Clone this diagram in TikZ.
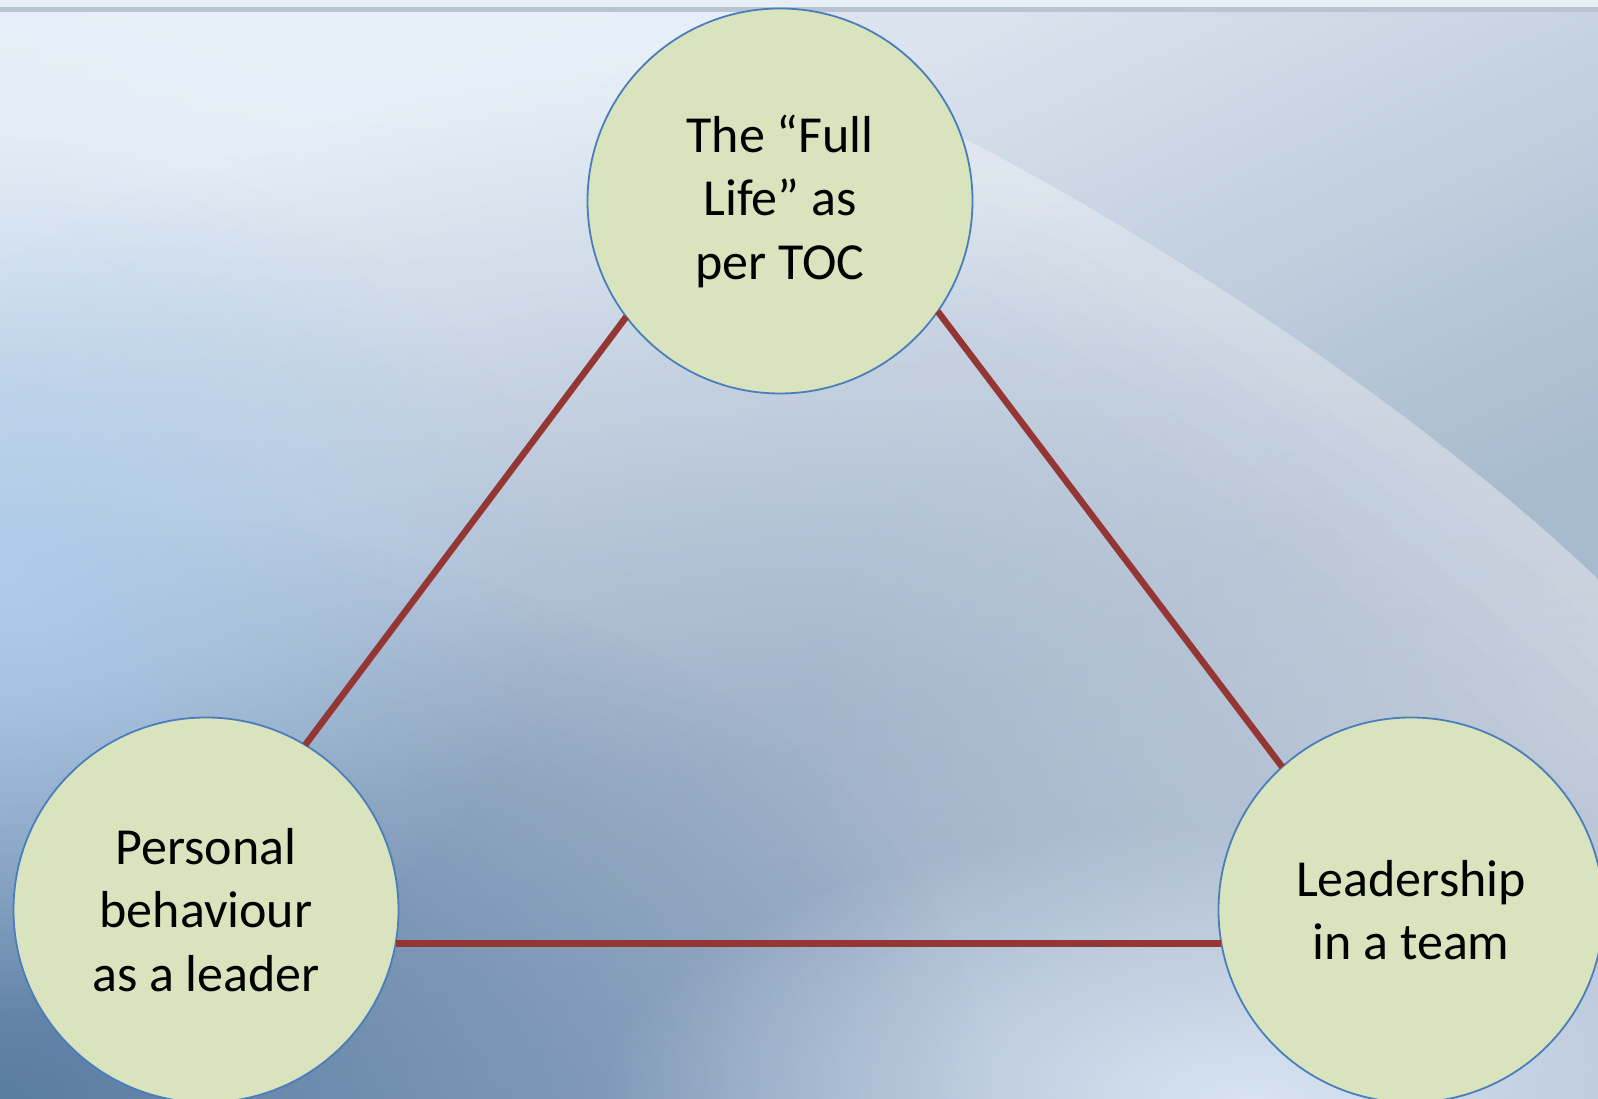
\documentclass[tikz,border=0pt]{standalone}
\usepackage{fontspec}
\setmainfont{Carlito}
\usetikzlibrary{fadings}
\definecolor{cfill}{HTML}{D9E4BE}
\definecolor{cborder}{HTML}{4A7EBB}
\definecolor{cline}{HTML}{943634}
\definecolor{bgtop}{HTML}{E4ECF6}
\definecolor{bgmid}{HTML}{C0D0E2}
\definecolor{bgbot}{HTML}{9AAEC8}
\definecolor{bgtl}{HTML}{E8F0F8}
\definecolor{bgleft}{HTML}{AECCEA}
\definecolor{bgcen}{HTML}{9AACC4}
\definecolor{bgdark}{HTML}{567AA0}
\definecolor{bgright}{HTML}{C4CEDA}
\definecolor{bgglow}{HTML}{D8E4F2}
\definecolor{swtop}{HTML}{DAE3EE}
\definecolor{swbot}{HTML}{A8BACE}
\definecolor{ruletop}{HTML}{E8EEF6}
\definecolor{rule}{HTML}{B8C4D4}
\tikzfading[name=softblob, inner color=transparent!0, outer color=transparent!100]
\begin{document}
\begin{tikzpicture}[x=1pt,y=1pt,
  bubble/.style={circle, draw=cborder, line width=1.8pt, fill=cfill,
    minimum size=385pt, inner sep=0pt, outer sep=0pt, align=center,
    font=\fontsize{52}{63.5}\selectfont, text=black},
  link/.style={draw=cline, line width=6.5pt},
  blob/.style={fill=#1, path fading=softblob}]
\useasboundingbox (0,0) rectangle (1598,1099);
\begin{scope}
  \clip (0,0) rectangle (1598,1099);
  % base
  \shade[top color=bgtop, middle color=bgmid, bottom color=bgbot] (0,0) rectangle (1598,1099);
  % light top-left
  \fill[blob=bgtl] (350,1099) ellipse (1300 and 800);
  % grey-blue centre
  \fill[blob=bgcen, fill opacity=0.7] (760,330) ellipse (1100 and 700);
  % dark bottom-left
  \fill[blob=bgdark, fill opacity=0.95] (0,0) ellipse (1000 and 600);
  % light blue left
  \fill[blob=bgleft, fill opacity=0.95] (0,520) ellipse (560 and 440);
  % right greyish
  \fill[blob=bgright, fill opacity=0.8] (1598,380) ellipse (800 and 700);
  % glow bottom right
  \fill[blob=bgglow] (1250,0) ellipse (650 and 280);
  % swoosh: darker region above the curve
  \shade[top color=swtop, bottom color=swbot, shading angle=25]
    (780,1099) -- (780,1092) .. controls (850,1040) and (900,995) .. (967,959)
      .. controls (1150,865) and (1420,690) .. (1598,520) -- (1598,1099) -- cycle;
  % light band below the curve, fading downwards
  \foreach \d/\o in {0/0.05,40/0.05,80/0.04,130/0.04,190/0.03}{
    \fill[white, fill opacity=\o]
      (780,1092) .. controls (850,1040) and (900,995) .. (967,959)
        .. controls (1150,865) and (1420,690) .. (1598,520)
      -- (1598,470-\d) .. controls (1420,640-0.9*\d) and (1150,815-0.8*\d) .. (967,909-0.7*\d)
        .. controls (900,945-0.6*\d) and (850,990-0.5*\d) .. (780,1040-0.5*\d) -- cycle;
  }
  % top rule
  \fill[ruletop] (0,1092) rectangle (1598,1099);
  \fill[rule] (0,1087) rectangle (1598,1092);
\end{scope}
\node[bubble] (top) at (780,898) {The “Full\\Life” as\\per TOC};
\node[bubble] (left) at (206,189) {Personal\\behaviour\\as a leader};
\node[bubble] (right) at (1411,189) {Leadership\\in a team};
\draw[link] (top.217) -- (left.59);
\draw[link] (top.-35.3) -- (right.132.3);
\draw[link] (left.-10.5) -- (right.190.5);
\end{tikzpicture}
\end{document}
